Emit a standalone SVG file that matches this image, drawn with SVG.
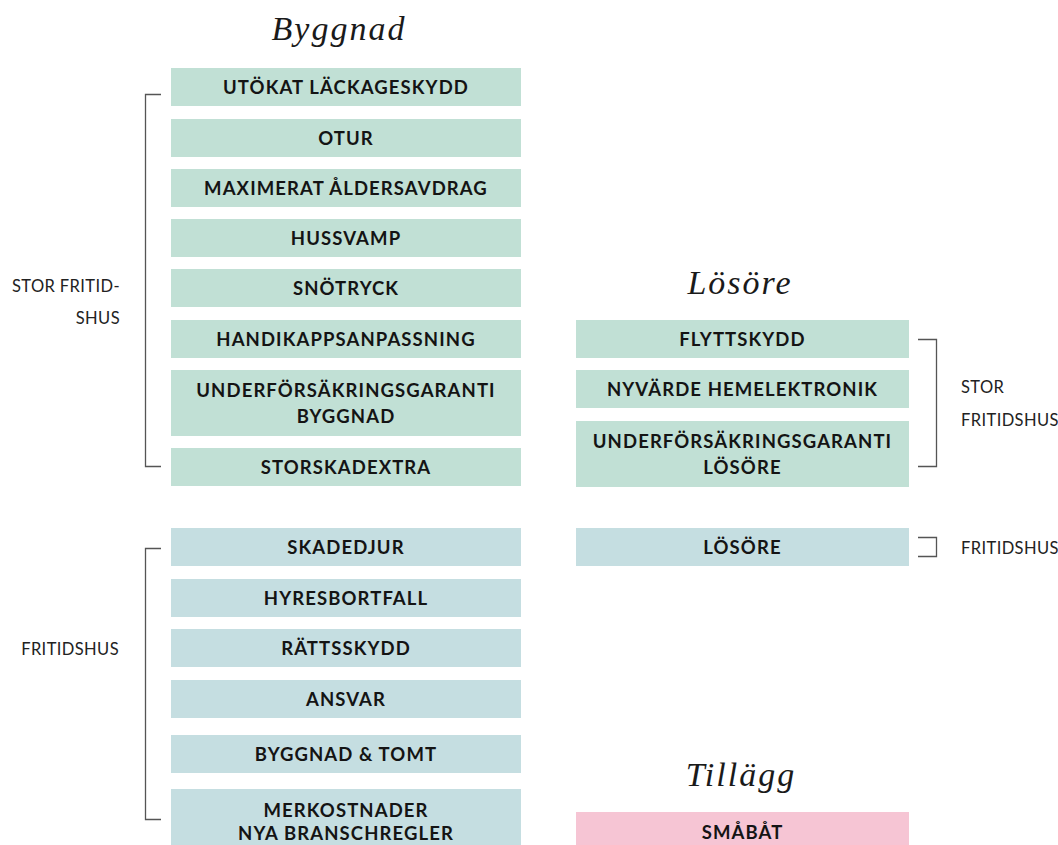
<svg xmlns="http://www.w3.org/2000/svg" width="1058" height="845" viewBox="0 0 1058 845">
<style>
.g{fill:#c1e0d5}
.b{fill:#c5dee1}
.p{fill:#f6c5d4}
.t{font-family:Lato,"Open Sans","Liberation Sans",sans-serif;font-weight:700;font-size:18.5px;letter-spacing:1.1px;fill:#141414;text-anchor:middle}
.l{font-family:Lato,"Open Sans","Liberation Sans",sans-serif;font-weight:400;font-size:16.5px;letter-spacing:0.4px;fill:#222}
.h{font-family:"Liberation Serif",serif;font-style:italic;font-size:34px;letter-spacing:2px;fill:#1a1a1a;text-anchor:middle}
.br{fill:none;stroke:#555;stroke-width:1.3}
</style>
<rect width="1058" height="845" fill="#fff"/>
<g id="headings">
<text class="h" x="339" y="40">Byggnad</text>
<text class="h" x="740" y="294">Lösöre</text>
<text class="h" x="741" y="786">Tillägg</text>
</g>
<g id="connectors">
<path class="br" d="M161,94.5H145.5V466.5H161"/>
<path class="br" d="M161,548.5H145.5V819.5H161"/>
<path class="br" d="M918,339.5H936.5V466.5H918"/>
<path class="br" d="M918,537.5H936.5V556.5H918"/>
</g>
<g id="labels">
<text class="l" x="120" y="292" text-anchor="end">STOR FRITID-</text>
<text class="l" x="120" y="324" text-anchor="end">SHUS</text>
<text class="l" x="119" y="655" text-anchor="end">FRITIDSHUS</text>
<text class="l" x="961" y="393">STOR</text>
<text class="l" x="961" y="426">FRITIDSHUS</text>
<text class="l" x="961" y="554">FRITIDSHUS</text>
</g>
<g id="n1"><rect class="g" x="171" y="68" width="350" height="38"/><text class="t" x="346" y="94">UTÖKAT LÄCKAGESKYDD</text></g>
<g id="n2"><rect class="g" x="171" y="119" width="350" height="38"/><text class="t" x="346" y="145">OTUR</text></g>
<g id="n3"><rect class="g" x="171" y="169" width="350" height="38"/><text class="t" x="346" y="195">MAXIMERAT ÅLDERSAVDRAG</text></g>
<g id="n4"><rect class="g" x="171" y="219" width="350" height="38"/><text class="t" x="346" y="245">HUSSVAMP</text></g>
<g id="n5"><rect class="g" x="171" y="269" width="350" height="38"/><text class="t" x="346" y="295">SNÖTRYCK</text></g>
<g id="n6"><rect class="g" x="171" y="320" width="350" height="38"/><text class="t" x="346" y="346">HANDIKAPPSANPASSNING</text></g>
<g id="n7"><rect class="g" x="171" y="370" width="350" height="66"/><text class="t" x="346" y="397">UNDERFÖRSÄKRINGSGARANTI</text><text class="t" x="346" y="423">BYGGNAD</text></g>
<g id="n8"><rect class="g" x="171" y="448" width="350" height="38"/><text class="t" x="346" y="474">STORSKADEXTRA</text></g>
<g id="n9"><rect class="b" x="171" y="528" width="350" height="38"/><text class="t" x="346" y="554">SKADEDJUR</text></g>
<g id="n10"><rect class="b" x="171" y="579" width="350" height="38"/><text class="t" x="346" y="605">HYRESBORTFALL</text></g>
<g id="n11"><rect class="b" x="171" y="629" width="350" height="38"/><text class="t" x="346" y="655">RÄTTSSKYDD</text></g>
<g id="n12"><rect class="b" x="171" y="680" width="350" height="38"/><text class="t" x="346" y="706">ANSVAR</text></g>
<g id="n13"><rect class="b" x="171" y="735" width="350" height="38"/><text class="t" x="346" y="761">BYGGNAD &amp; TOMT</text></g>
<g id="n14"><rect class="b" x="171" y="789" width="350" height="60"/><text class="t" x="346" y="817">MERKOSTNADER</text><text class="t" x="346" y="840">NYA BRANSCHREGLER</text></g>
<g id="r1"><rect class="g" x="576" y="320" width="333" height="38"/><text class="t" x="742.5" y="346">FLYTTSKYDD</text></g>
<g id="r2"><rect class="g" x="576" y="370" width="333" height="38"/><text class="t" x="742.5" y="396">NYVÄRDE HEMELEKTRONIK</text></g>
<g id="r3"><rect class="g" x="576" y="421" width="333" height="66"/><text class="t" x="742.5" y="448">UNDERFÖRSÄKRINGSGARANTI</text><text class="t" x="742.5" y="474">LÖSÖRE</text></g>
<g id="r4"><rect class="b" x="576" y="528" width="333" height="38"/><text class="t" x="742.5" y="554">LÖSÖRE</text></g>
<g id="r5"><rect class="p" x="576" y="812" width="333" height="40"/><text class="t" x="742.5" y="839">SMÅBÅT</text></g>
</svg>
